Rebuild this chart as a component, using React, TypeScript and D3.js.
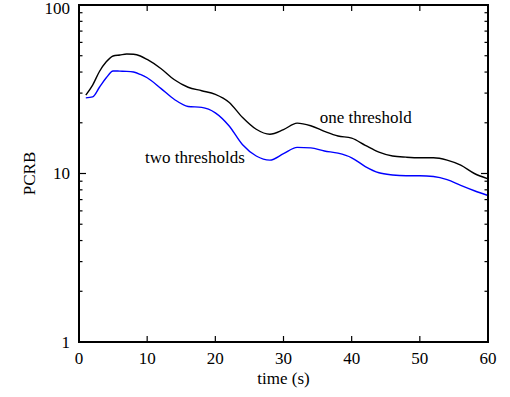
import React from 'react';
import * as d3 from 'd3';

const times = [1, 2, 3, 4, 5, 6, 7, 8, 9, 10, 12, 14, 16, 18, 20, 22, 24, 26, 28, 30, 32, 34, 36, 38, 40, 42, 44, 46, 48, 50, 52, 54, 56, 58, 60];

const oneThreshold = [29.2, 33.5, 40.3, 46, 49.8, 50.5, 51.2, 51, 49.8, 47.5, 42, 36, 32.5, 31, 29.5, 26.5, 21.5, 18.3, 17.1, 18.2, 19.9, 19.2, 17.8, 16.7, 16.2, 14.7, 13.4, 12.7, 12.5, 12.4, 12.4, 12.0, 11.2, 10.0, 9.3];

const twoThresholds = [28.1, 28.5, 32.5, 37, 40.6, 40.5, 40.4, 40, 38.7, 37, 32, 27.5, 25, 24.7, 22.9, 19.2, 14.8, 12.7, 12.0, 13.1, 14.3, 14.2, 13.6, 13.2, 12.4, 11.0, 10.1, 9.8, 9.7, 9.7, 9.6, 9.2, 8.5, 7.9, 7.4];

const xTicks = [0, 10, 20, 30, 40, 50, 60];
const yTicks = [1, 10, 100];
const yMinor = [2, 3, 4, 5, 6, 7, 8, 9, 20, 30, 40, 50, 60, 70, 80, 90];

const series = [
  { name: 'one threshold', values: oneThreshold, color: '#000000' },
  { name: 'two thresholds', values: twoThresholds, color: '#0000ff' },
];

// label anchors in data units
const annotations = [
  { text: 'one threshold', t: 35.3, v: 19.9 },
  { text: 'two thresholds', t: 9.7, v: 11.5 },
];

const W = 510;
const H = 397;
const margin = { top: 5, right: 22, bottom: 55, left: 79 };
const FONT = "'Liberation Serif', 'Times New Roman', serif";

const txt = { fontFamily: FONT, fontSize: 17, fill: '#000' } as const;

export default function App() {
  const innerW = W - margin.left - margin.right;
  const innerH = H - margin.top - margin.bottom;

  const x = d3.scaleLinear().domain([0, 60]).range([0, innerW]);
  const y = d3.scaleLog().domain([1, 100]).range([innerH, 0]);

  const line = d3
    .line<number>()
    .x((_, i) => x(times[i]))
    .y(d => y(d))
    .curve(d3.curveMonotoneX);

  return (
    <svg width={W} height={H} style={{ position: 'absolute', left: 0, top: 0, background: '#fff' }}>
      <g transform={`translate(${margin.left},${margin.top})`}>
        {series.map(s => (
          <path key={s.name} d={line(s.values) || ''} fill="none" stroke={s.color} strokeWidth={1.4} />
        ))}

        {/* frame */}
        <rect x={0} y={0} width={innerW} height={innerH} fill="none" stroke="#000" strokeWidth={2} />

        {/* x ticks, top and bottom, inward */}
        {xTicks.map(t => (
          <g key={`x${t}`}>
            <line x1={x(t)} x2={x(t)} y1={innerH} y2={innerH - 6} stroke="#000" strokeWidth={1.2} />
            <line x1={x(t)} x2={x(t)} y1={0} y2={6} stroke="#000" strokeWidth={1.2} />
            <text x={x(t)} y={innerH + 22} textAnchor="middle" style={txt}>{t}</text>
          </g>
        ))}

        {/* y ticks */}
        {yTicks.map(v => (
          <g key={`y${v}`}>
            <line x1={0} x2={7} y1={y(v)} y2={y(v)} stroke="#000" strokeWidth={1.2} />
            <line x1={innerW} x2={innerW - 7} y1={y(v)} y2={y(v)} stroke="#000" strokeWidth={1.2} />
            <text x={-9} y={Math.max(y(v), 3)} dy="0.35em" textAnchor="end" style={txt}>{v}</text>
          </g>
        ))}
        {yMinor.map(v => (
          <g key={`m${v}`}>
            <line x1={0} x2={3.5} y1={y(v)} y2={y(v)} stroke="#000" strokeWidth={1.2} />
            <line x1={innerW} x2={innerW - 3.5} y1={y(v)} y2={y(v)} stroke="#000" strokeWidth={1.2} />
          </g>
        ))}

        {annotations.map(a => (
          <text key={a.text} x={x(a.t)} y={y(a.v)} style={txt}>{a.text}</text>
        ))}

        <text x={innerW / 2} y={innerH + 42} textAnchor="middle" style={txt}>time (s)</text>
        <text transform={`translate(${-44},${y(10)}) rotate(-90)`} textAnchor="middle" style={txt}>PCRB</text>
      </g>
    </svg>
  );
}
